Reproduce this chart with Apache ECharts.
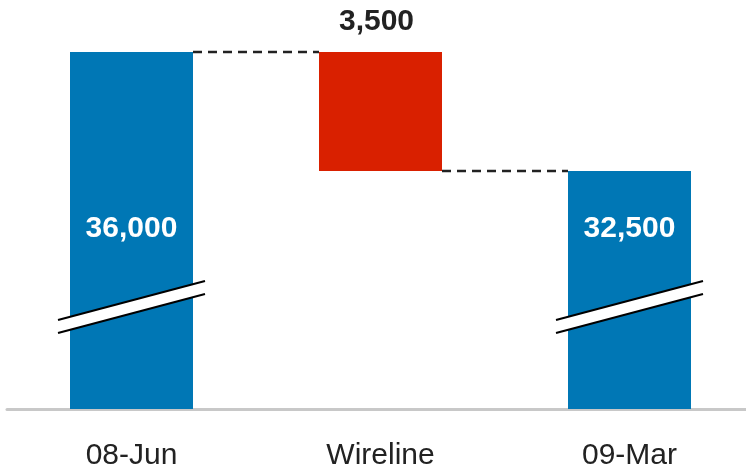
<!DOCTYPE html>
<html>
<head>
<meta charset="utf-8">
<script src="https://cdn.jsdelivr.net/npm/echarts@6/dist/echarts.min.js"></script>
<style>
  html, body { margin: 0; padding: 0; background: #fff; overflow: hidden; }
  /* axis runs off the right edge in the original, so the canvas is a bit wider */
  #chart { width: 754px; height: 473px; }
</style>
</head>
<body>
<div id="chart"></div>
<script>
// waterfall data
const categories = ['08-Jun', 'Wireline', '09-Mar'];
const baseValues = [0, 32500, 0];         // invisible part of the stack
const barValues = [36000, 3500, 32500];   // visible part
const barKinds = ['total', 'decrease', 'total'];
// dashed connectors: [from category, level]
const connectors = [[0, 36000], [1, 32500]];
// axis is broken, visible range only
const yMin = 25500;
const yMax = 36000;
const breakValue = 28500;

const BLUE = '#0077b5';
const RED = '#d92000';
const BAR_W = 123;
const FONT = '"Liberation Sans", Arial, sans-serif';

let chart = echarts.init(document.getElementById('chart'));

let valueData = barValues.map((v, i) => {
  let isTotal = barKinds[i] === 'total';
  return {
    value: v,
    itemStyle: { color: isTotal ? BLUE : RED },
    label: isTotal ? {
      position: 'insideBottom',
      distance: 165,
      color: '#fff'
    } : {
      position: 'top',
      distance: 15,
      offset: [-4, 0],
      color: '#222'
    }
  };
});

let breakData = barKinds
  .map((k, i) => k === 'total' ? [i, breakValue] : null)
  .filter(d => d);

chart.setOption({
  animation: false,
  grid: { left: 7, right: 0, top: 52, bottom: 64 },
  xAxis: {
    type: 'category',
    data: categories,
    axisTick: { show: false },
    axisLine: { lineStyle: { color: '#c8c8c8', width: 3 } },
    axisLabel: { color: '#222', fontSize: 30, fontFamily: FONT, margin: 32 }
  },
  yAxis: {
    type: 'value',
    min: yMin,
    max: yMax,
    show: false,
    splitLine: { show: false }
  },
  series: [
    {
      name: 'base',
      type: 'bar',
      stack: 'wf',
      barWidth: BAR_W,
      itemStyle: { color: 'transparent' },
      data: baseValues
    },
    {
      name: 'value',
      type: 'bar',
      stack: 'wf',
      barWidth: BAR_W,
      label: {
        show: true,
        fontSize: 30,
        fontWeight: 'bold',
        fontFamily: FONT,
        formatter: p => p.value.toLocaleString('en-US')
      },
      data: valueData
    },
    {
      name: 'connector',
      type: 'custom',
      clip: false,
      z: 5,
      data: connectors,
      renderItem(params, api) {
        let i = api.value(0);
        let p1 = api.coord([i, api.value(1)]);
        let p2 = api.coord([i + 1, api.value(1)]);
        return {
          type: 'line',
          shape: { x1: p1[0] + BAR_W / 2, y1: p1[1], x2: p2[0] - BAR_W / 2, y2: p2[1] },
          style: { stroke: '#222', lineWidth: 2.5, lineDash: [9, 6] }
        };
      }
    },
    {
      name: 'break',
      type: 'custom',
      clip: false,
      z: 6,
      data: breakData,
      renderItem(params, api) {
        let c = api.coord([api.value(0), api.value(1)]);
        let hw = BAR_W / 2 + 12;
        let x0 = c[0] - hw, x1 = c[0] + hw, y = c[1];
        return {
          type: 'group',
          children: [
            {
              type: 'polygon',
              shape: { points: [[x0, y + 13], [x1, y - 26], [x1, y - 13], [x0, y + 26]] },
              style: { fill: '#fff' }
            },
            {
              type: 'line',
              shape: { x1: x0, y1: y + 13, x2: x1, y2: y - 26 },
              style: { stroke: '#000', lineWidth: 2 }
            },
            {
              type: 'line',
              shape: { x1: x0, y1: y + 26, x2: x1, y2: y - 13 },
              style: { stroke: '#000', lineWidth: 2 }
            }
          ]
        };
      }
    }
  ]
});
</script>
</body>
</html>
